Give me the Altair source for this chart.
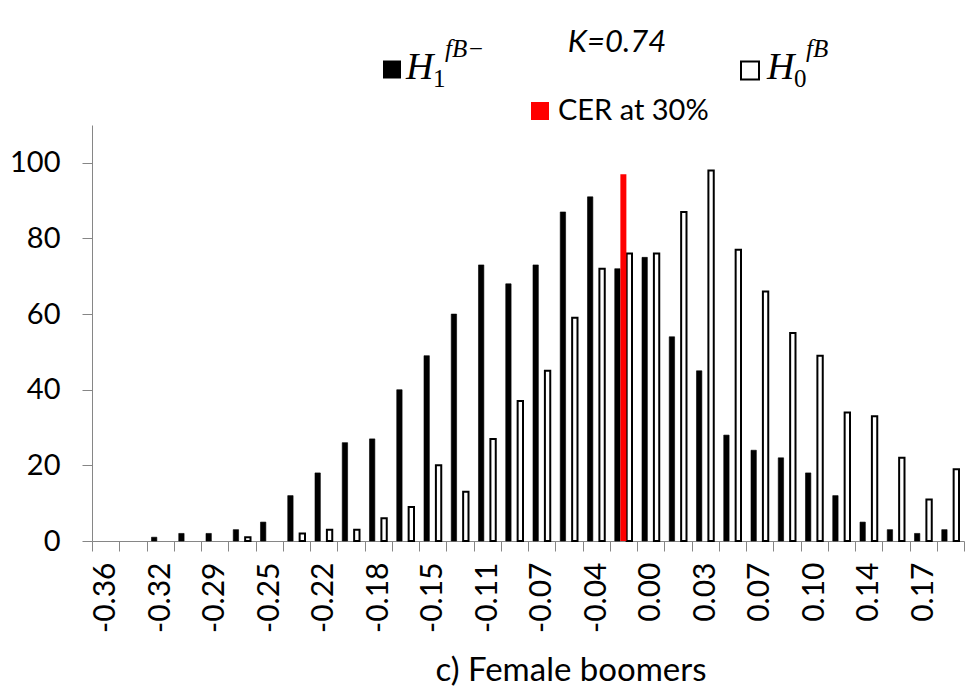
import altair as alt
import pandas as pd

# ---- data ----
TICK_LABELS = ["-0.36", "-0.32", "-0.29", "-0.25", "-0.22", "-0.18", "-0.15", "-0.11",
               "-0.07", "-0.04", "0.00", "0.03", "0.07", "0.10", "0.14", "0.17"]
H1_COUNTS = [0, 0, 1, 2, 2, 3, 5, 12, 18, 26, 27, 40, 49, 60, 73, 68,
             73, 87, 91, 72, 75, 54, 45, 28, 24, 22, 18, 12, 5, 3, 2, 3]
H0_COUNTS = [0, 0, 0, 0, 0, 1, 0, 2, 3, 3, 6, 9, 20, 13, 27, 37,
             45, 59, 72, 76, 76, 87, 98, 77, 66, 55, 49, 34, 33, 22, 11, 19]
CER_BIN = 19
CER_VALUE = 97
SERIES = ["H1", "H0"]

rows = []
for i, (a, b) in enumerate(zip(H1_COUNTS, H0_COUNTS)):
    rows.append({"bin": i, "series": "H1", "count": a})
    rows.append({"bin": i, "series": "H0", "count": b})
df = pd.DataFrame(rows)
cer_df = pd.DataFrame({"bin": [CER_BIN], "count": [CER_VALUE]})
BINS = list(range(len(H1_COUNTS)))

W, H = 872, 416
FONT = "Lato"
AXIS_GRAY = "#868686"

label_arr = "[" + ",".join("'%s'" % t for t in TICK_LABELS) + "]"
label_expr = "datum.value % 2 == 0 ? " + label_arr + "[datum.value / 2] : ''"

x_enc = alt.X(
    "bin:O",
    scale=alt.Scale(domain=BINS, paddingInner=0, paddingOuter=0),
    axis=alt.Axis(
        title=None, labelExpr=label_expr, labelAngle=270, labelFont=FONT,
        labelFontSize=30, labelColor="black", labelPadding=11,
        tickBand="extent", tickSize=10, tickColor=AXIS_GRAY, domainColor=AXIS_GRAY,
        labelAlign="right", labelBaseline="middle",
    ),
)
y_enc = alt.Y(
    "count:Q",
    scale=alt.Scale(domain=[0, 110], nice=False),
    axis=alt.Axis(
        title=None, values=[0, 20, 40, 60, 80, 100], grid=False, labelFont=FONT,
        labelFontSize=29, labelColor="black", labelPadding=22, tickSize=10,
        tickColor=AXIS_GRAY, domainColor=AXIS_GRAY,
    ),
)

bars = alt.Chart(df).transform_filter("datum.count > 0").mark_bar(stroke="black").encode(
    x=x_enc,
    y=y_enc,
    xOffset=alt.XOffset("series:N", sort=SERIES,
                        scale=alt.Scale(domain=SERIES, paddingInner=0.55, paddingOuter=0.42)),
    fill=alt.Fill("series:N", scale=alt.Scale(domain=SERIES, range=["black", "white"]), legend=None),
    strokeWidth=alt.StrokeWidth("series:N", scale=alt.Scale(domain=SERIES, range=[0.6, 2]), legend=None),
)

cer = alt.Chart(cer_df).mark_bar(color="#ff0000", width=6).encode(
    x=alt.X("bin:O"), y=alt.Y("count:Q"),
)


def txt(s, x, y, size, font=FONT, style="normal", align="left"):
    return alt.Chart(pd.DataFrame({"t": [s]})).mark_text(
        font=font, fontSize=size, fontStyle=style, align=align, baseline="alphabetic", color="black"
    ).encode(text="t:N", x=alt.value(x), y=alt.value(y))


def sq(x, y, fill, stroke=None):
    kw = dict(size=324, fill=fill, fillOpacity=1, opacity=1)
    if stroke:
        kw.update(stroke=stroke, strokeWidth=2)
    else:
        kw.update(strokeWidth=0)
    return alt.Chart(pd.DataFrame({"t": [1]})).mark_square(**kw).encode(
        x=alt.value(x), y=alt.value(y))


SERIF = "Liberation Serif"
annotations = [
    txt("K=0.74", 525, -73, 31, style="italic", align="center"),
    sq(300, -55.5, "black"),
    txt("H", 314, -46, 38, font=SERIF, style="italic"),
    txt("1", 341, -38, 25, font=SERIF),
    txt("fB\u2212", 353, -68, 25, font=SERIF, style="italic"),
    sq(658, -54.5, "white", "black"),
    txt("H", 675, -46, 38, font=SERIF, style="italic"),
    txt("0", 702, -38, 25, font=SERIF),
    txt("fB", 714, -68, 25, font=SERIF, style="italic"),
    sq(448, -14, "#ff0000"),
    txt("CER at 30%", 466, -5, 29),
    txt("c) Female boomers", 479, H + 140, 33, align="center"),
]

chart = alt.layer(bars, cer, *annotations).properties(
    width=W, height=H,
    autosize=alt.AutoSizeParams(type="none"),
    padding={"left": 84, "top": 117, "right": 8, "bottom": 151},
).configure_view(stroke=None)

chart.save("out.html", embed_options={"renderer": "svg", "actions": False})
